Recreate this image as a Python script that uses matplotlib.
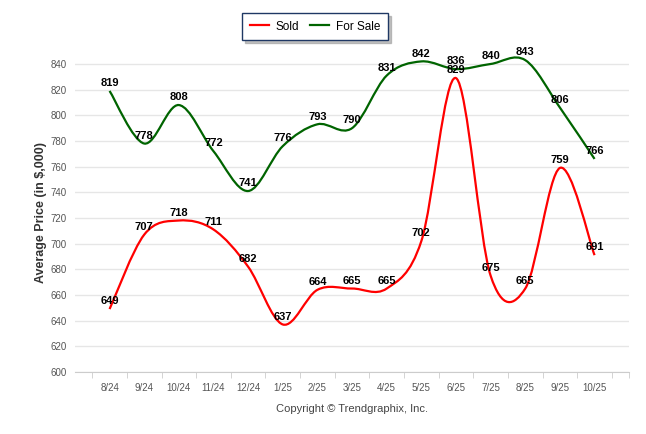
import numpy as np
import matplotlib.pyplot as plt
from matplotlib.path import Path
from matplotlib.patches import PathPatch
from matplotlib.lines import Line2D

months = ['8/24', '9/24', '10/24', '11/24', '12/24', '1/25', '2/25', '3/25',
          '4/25', '5/25', '6/25', '7/25', '8/25', '9/25', '10/25']
sold = [649, 707, 718, 711, 682, 637, 664, 665, 665, 702, 829, 675, 665, 759, 691]
for_sale = [819, 778, 808, 772, 741, 776, 793, 790, 831, 842, 836, 840, 843, 806, 766]

plt.rcParams['font.family'] = ['Liberation Sans', 'DejaVu Sans']


def spline_path(xs, ys):
    # catmull-rom spline turned into cubic bezier segments
    px = [xs[0]] + list(xs) + [xs[-1]]
    py = [ys[0]] + list(ys) + [ys[-1]]
    verts = [(xs[0], ys[0])]
    codes = [Path.MOVETO]
    for i in range(1, len(px) - 2):
        c1 = (px[i] + (px[i + 1] - px[i - 1]) / 6, py[i] + (py[i + 1] - py[i - 1]) / 6)
        c2 = (px[i + 1] - (px[i + 2] - px[i]) / 6, py[i + 1] - (py[i + 2] - py[i]) / 6)
        verts += [c1, c2, (px[i + 1], py[i + 1])]
        codes += [Path.CURVE4] * 3
    return Path(verts, codes)


fig = plt.figure(figsize=(6.46, 4.34), dpi=100)
ax = fig.add_axes([0.116, 0.143, 0.858, 0.735])
x = np.arange(len(months))

for vals, col in [(for_sale, '#006400'), (sold, '#ff0000')]:
    ax.add_patch(PathPatch(spline_path(list(x), vals), fill=False, edgecolor=col,
                           lw=1.6, clip_on=False, zorder=3))
    for xi, v in zip(x, vals):
        ax.annotate(str(v), (xi, v), xytext=(0, 2), textcoords='offset points',
                    ha='center', va='bottom', fontsize=8, fontweight='bold',
                    color='black', zorder=5)

ax.set_xlim(-1, 15)
ax.set_ylim(600, 848.6)
ax.set_yticks(range(600, 841, 20))
ax.set_xticks(x)
ax.set_xticklabels(months)
ax.set_xticks(list(np.arange(-0.5, 15, 1.0)) + [15], minor=True)
ax.tick_params(axis='x', which='major', length=0, labelsize=7, colors='#555555', pad=8)
ax.tick_params(axis='x', which='minor', length=4, color='#cccccc')
ax.tick_params(axis='y', length=0, labelsize=7, colors='#555555', pad=6)
ax.grid(axis='y', color='#e6e6e6', lw=1)
ax.set_axisbelow(True)
for s in ['top', 'right', 'left']:
    ax.spines[s].set_visible(False)
ax.spines['bottom'].set_color('#cccccc')
ax.set_ylabel('Average Price (in $,000)', fontsize=9, fontweight='bold', color='#333333', labelpad=2)

handles = [Line2D([], [], color='#ff0000', lw=1.6),
           Line2D([], [], color='#006400', lw=1.6)]
leg = fig.legend(handles, ['Sold', 'For Sale'], loc='upper center', bbox_to_anchor=(0.4876, 0.984),
                 ncol=2, fontsize=8.5, frameon=True, fancybox=False,
                 shadow={'color': '#999999', 'alpha': 0.6},
                 handlelength=1.6, handletextpad=0.6, columnspacing=0.9, borderpad=0.65)
leg.get_frame().set_edgecolor('#1f3864')
leg.get_frame().set_linewidth(1)

fig.text(0.545, 0.057, 'Copyright \u00a9 Trendgraphix, Inc.', ha='center', va='center',
         fontsize=8, color='#444444')

fig.savefig('out.png', dpi=100)
